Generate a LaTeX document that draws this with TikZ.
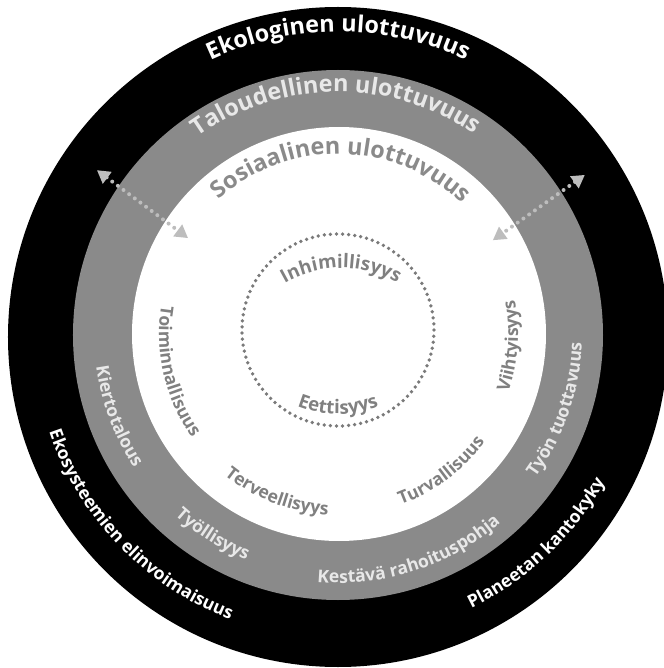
\documentclass[tikz,border=0pt]{standalone}
\usepackage{fontspec}
\setmainfont{Open Sans}
\usetikzlibrary{decorations.text,arrows.meta}

\definecolor{ringgray}{HTML}{8A8A8A}
\definecolor{labelgray}{HTML}{808080}
\definecolor{palegray}{HTML}{E8E8E8}
\definecolor{arrowgray}{HTML}{BDBDBD}
\definecolor{dotgray}{HTML}{7A7A7A}

\newcommand{\bigfont}{\fontsize{20pt}{24pt}\selectfont\bfseries}
\newcommand{\smallfont}{\fontsize{15pt}{18pt}\selectfont\bfseries}
\newcommand{\corefont}{\fontsize{16pt}{19pt}\selectfont\bfseries}

\tikzset{
  arclabel/.style={decorate, decoration={text along path, text align=center, text={#1}}},
  linkarrow/.style={arrowgray, line width=3.4pt, dash pattern=on 0pt off 6pt, line cap=round,
    {Triangle[length=11pt,width=12pt]}-{Triangle[length=11pt,width=12pt]}},
}

\begin{document}
\begin{tikzpicture}[x=0.03cm, y=0.03cm]
    \useasboundingbox (-338,-334) rectangle (325,334);

    % Rings
    \fill[black] (0,-3) circle[radius=330];
    \fill[ringgray] (0,-1) circle[radius=265];
    \fill[white] (1,0) circle[radius=207];
    \draw[dotgray, line width=3.2pt, dash pattern=on 0pt off 5.2pt, line cap=round] (0,4) circle[radius=96];

    % Ring titles
    \path[arclabel={|\bigfont\color{white}|Ekologinen ulottuvuus}] (150:302) arc[start angle=150, end angle=30, radius=302];
    \path[arclabel={|\bigfont\color{palegray}|Taloudellinen ulottuvuus}] (150.5:242) arc[start angle=150.5, end angle=30.5, radius=242];
    \path[arclabel={|\bigfont\color{ringgray}|Sosiaalinen ulottuvuus}] (149:180) arc[start angle=149, end angle=29, radius=180];

    % Links between the rings
    \coordinate (ekoL) at (145.8:291.5);
    \coordinate (sosL) at (147.4:178);
    \coordinate (ekoR) at (32.8:293.7);
    \coordinate (sosR) at (31.2:181);
    \draw[linkarrow] (ekoL) -- (sosL);
    \draw[linkarrow] (ekoR) -- (sosR);

    % Ekologinen
    \path[arclabel={|\smallfont\color{white}|Ekosysteemien elinvoimaisuus}] (184:305) arc[start angle=184, end angle=264, radius=305];
    \path[arclabel={|\smallfont\color{white}|Planeetan kantokyky}] (283.5:305) arc[start angle=283.5, end angle=343.5, radius=305];

    % Taloudellinen
    \path[arclabel={|\smallfont\color{palegray}|Kiertotalous}] (160:244) arc[start angle=160, end angle=241, radius=244];
    \path[arclabel={|\smallfont\color{palegray}|Työllisyys}] (208:244) arc[start angle=208, end angle=268, radius=244];
    \path[arclabel={|\smallfont\color{palegray}|Kestävä rahoituspohja}] (243:249) arc[start angle=243, end angle=333, radius=249];
    \path[arclabel={|\smallfont\color{palegray}|Työn tuottavuus}] (306:244) arc[start angle=306, end angle=376, radius=244];

    % Sosiaalinen
    \path[arclabel={|\smallfont\color{labelgray}|Toiminnallisuus}] (143:179) arc[start angle=143, end angle=243, radius=179];
    \path[arclabel={|\smallfont\color{labelgray}|Terveellisyys}] (204:181) arc[start angle=204, end angle=294, radius=181];
    \path[arclabel={|\smallfont\color{labelgray}|Turvallisuus}] (262:182) arc[start angle=262, end angle=352, radius=182];
    \path[arclabel={|\smallfont\color{labelgray}|Viihtyisyys}] (311:180) arc[start angle=311, end angle=401, radius=180];

    % Core
    \path[arclabel={|\corefont\color{labelgray}|Inhimillisyys}] ([shift={(3,-46)}]150:112) arc[start angle=150, end angle=30, radius=112];
    \path[arclabel={|\corefont\color{labelgray}|Eettisyys}] ([shift={(0,30)}]225:110) arc[start angle=225, end angle=315, radius=110];
\end{tikzpicture}
\end{document}
